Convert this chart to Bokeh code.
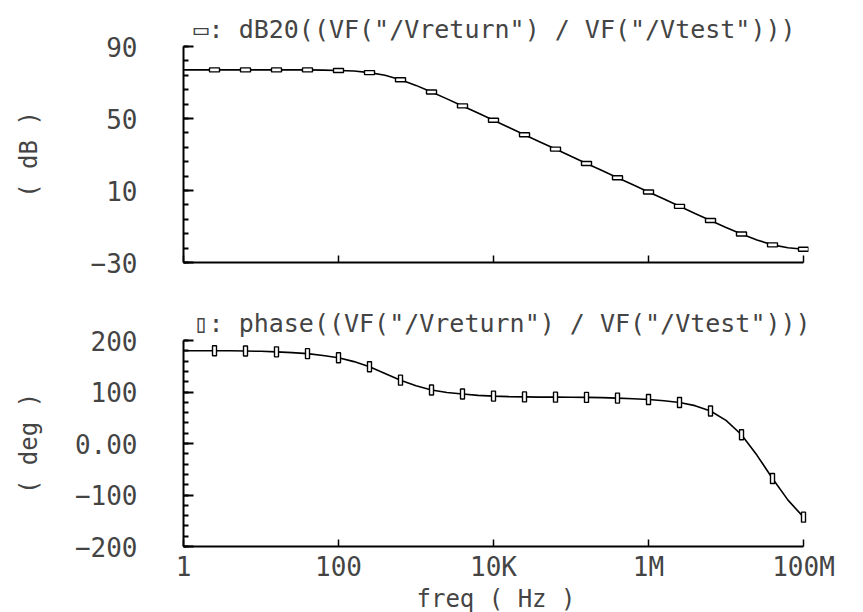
from bokeh.plotting import figure
from bokeh.models import Range1d, FixedTicker
from bokeh.layouts import column
from bokeh.embed import file_html
from bokeh.resources import INLINE

# ---- data ----
freq = [1, 1.585, 2.512, 3.981, 6.31, 10, 15.85, 25.12, 39.81, 63.1,
        100, 158.5, 251.2, 398.1, 631, 1000, 1585, 2512, 3981, 6310,
        1e4, 1.585e4, 2.512e4, 3.981e4, 6.31e4, 1e5, 1.585e5, 2.512e5, 3.981e5, 6.31e5,
        1e6, 1.585e6, 2.512e6, 3.981e6, 6.31e6, 1e7, 1.585e7, 2.512e7, 3.981e7, 6.31e7,
        1e8]
mag_db = [77.0, 77.0, 77.0, 77.0, 77.0, 77.0, 77.0, 77.0, 77.0, 76.9,
          76.7, 76.4, 75.5, 74.0, 71.5, 68.4, 64.7, 60.9, 57.0, 53.0,
          49.0, 45.0, 41.0, 37.0, 33.0, 29.0, 25.0, 21.1, 17.1, 13.2,
          9.2, 5.3, 1.2, -2.8, -6.7, -10.6, -14.2, -17.5, -20.2, -21.8,
          -22.6]
phase_deg = [180, 180, 180, 180, 179.5, 179, 178, 176.5, 174.5, 171,
             166.5, 159, 149, 136, 123, 112, 104, 99, 96, 93.5,
             92, 91, 90.5, 90, 90, 89.8, 89.5, 89, 88.2, 87,
             85.5, 83, 79.5, 73.5, 63, 45, 17, -23, -68, -110,
             -143]

mag_title = '\u25ad: dB20((VF("/Vreturn") / VF("/Vtest")))'
phase_title = '\u25af: phase((VF("/Vreturn") / VF("/Vtest")))'
mag_axis_label = "( dB )"
phase_axis_label = "( deg )"
x_axis_label = "freq ( Hz )"

x_ticks = [1, 100, 1e4, 1e6, 1e8]
x_tick_labels = ["1", "100", "10K", "1M", "100M"]
x_bounds = (1, 1e8)
mag_ticks = [-30, 10, 50, 90]
mag_tick_labels = ["\u221230", "10", "50", "90"]
mag_minor = [-30, -22, -14, -6, 2, 10, 18, 26, 34, 42, 50, 58, 66, 74, 82, 90]
phase_ticks = [-200, -100, 0, 100, 200]
phase_tick_labels = ["\u2212200", "\u2212100", "0.00", "100", "200"]
phase_minor = [-200, -180, -160, -140, -120, -100, -80, -60, -40, -20, 0,
               20, 40, 60, 80, 100, 120, 140, 160, 180, 200]

FONT = "DejaVu Sans Mono"
FS = "24px"
TICK_FS = "26px"


def make(frame_h, top, bottom, y_range, yticks, ylabels, yminor, title, ylabel,
         show_x, ylabel_standoff):
    # x range runs a hair past 100M so the last marker is not cut; the axis
    # line itself stops at 100M through its bounds
    p = figure(frame_width=625, frame_height=frame_h, x_axis_type="log",
               x_range=Range1d(1, 1.16e8), y_range=Range1d(*y_range),
               output_backend="svg", toolbar_location=None,
               min_border_left=183, min_border_right=55,
               min_border_top=top, min_border_bottom=bottom)
    p.outline_line_color = None
    p.xgrid.visible = False
    p.ygrid.visible = False
    p.background_fill_color = "white"
    p.border_fill_color = "white"

    p.title.text = title
    p.title.align = "left"
    p.title.offset = 10
    p.title.text_font = FONT
    p.title.text_font_size = "25px"
    p.title.text_font_style = "normal"
    p.title.standoff = 5

    xa = p.xaxis[0]
    xa.bounds = x_bounds
    xa.ticker = FixedTicker(ticks=x_ticks, minor_ticks=[])
    xa.major_label_overrides = {t: l for t, l in zip(x_ticks, x_tick_labels)}
    xa.axis_line_width = 2
    xa.major_tick_line_width = 1.5
    xa.major_tick_in = 7
    xa.major_tick_out = 0
    xa.minor_tick_in = 0
    xa.minor_tick_out = 0
    xa.major_label_text_font = FONT
    xa.major_label_text_font_size = TICK_FS
    if show_x:
        xa.major_label_standoff = 5
        xa.axis_label = x_axis_label
        xa.axis_label_text_font = FONT
        xa.axis_label_text_font_size = FS
        xa.axis_label_text_font_style = "normal"
        xa.axis_label_standoff = 0
    else:
        xa.major_label_text_color = None
        xa.major_label_standoff = 0

    ya = p.yaxis[0]
    ya.ticker = FixedTicker(ticks=yticks, minor_ticks=yminor)
    ya.major_label_overrides = {t: l for t, l in zip(yticks, ylabels)}
    ya.axis_line_width = 2
    ya.major_tick_line_width = 2
    ya.minor_tick_line_width = 2
    ya.major_tick_in = 10
    ya.major_tick_out = 0
    ya.minor_tick_in = 5
    ya.minor_tick_out = 0
    ya.major_label_text_font = FONT
    ya.major_label_text_font_size = TICK_FS
    ya.major_label_text_align = "right"
    ya.major_label_standoff = 46
    ya.axis_label = ylabel
    ya.axis_label_text_font = FONT
    ya.axis_label_text_font_size = FS
    ya.axis_label_text_font_style = "normal"
    ya.axis_label_standoff = ylabel_standoff
    return p


p1 = make(216, 46, 16, (-30, 90), mag_ticks, mag_tick_labels, mag_minor,
          mag_title, mag_axis_label, False, 45)
p1.line(freq, mag_db, line_color="black", line_width=1.6)
p1.rect(freq[2::2], mag_db[2::2], width=10, height=4, width_units="screen",
        height_units="screen", fill_color="white", line_color="black", line_width=1.4)

p2 = make(206, 62, 64, (-200, 200), phase_ticks, phase_tick_labels, phase_minor,
          phase_title, phase_axis_label, True, 29)
p2.line(freq, phase_deg, line_color="black", line_width=1.6)
p2.rect(freq[2::2], phase_deg[2::2], width=4, height=10, width_units="screen",
        height_units="screen", fill_color="white", line_color="black", line_width=1.4)

layout = column(p1, p2, spacing=0)
open("out.html", "w").write(file_html(layout, INLINE))
